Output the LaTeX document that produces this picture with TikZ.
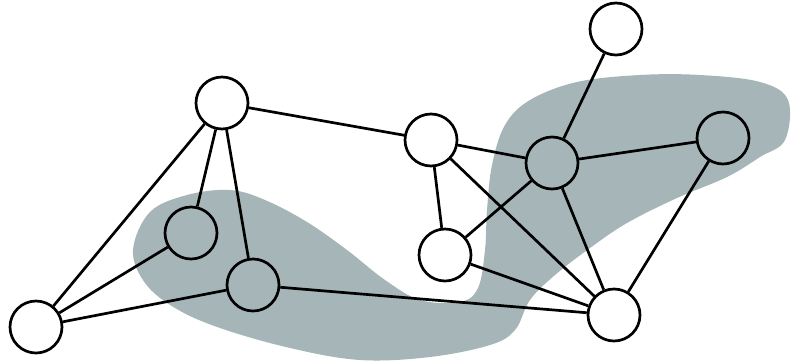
\documentclass[tikz,border=0pt]{standalone}
\definecolor{blobgray}{RGB}{166,181,184}

\begin{document}
\begin{tikzpicture}[x=0.03cm, y=-0.03cm, line width=2.3pt,
    vertex/.style={shape=circle, draw, fill=white, minimum size=1.56cm, inner sep=0pt},
    marked/.style={vertex, fill=none}]
        \useasboundingbox (0, 0) rectangle (791, 363);
        % Shaded region:
        \fill[blobgray] plot[smooth cycle, tension=0.6] coordinates {
            (133, 250) (150, 212) (187, 195) (230, 190) (265, 200) (307, 222)
            (347, 250) (385, 280) (420, 300) (460, 302) (478, 288) (485, 250)
            (487, 210) (492, 165) (505, 125) (530, 100) (577, 82) (640, 75)
            (700, 75) (760, 82) (788, 100) (785, 140) (760, 157) (727, 177)
            (677, 198) (627, 223) (590, 248) (555, 275) (530, 300) (515, 330)
            (490, 345) (430, 357) (360, 360) (290, 348) (220, 328) (175, 308)
            (145, 283)};
        % Nodes:
        \node[vertex] (a) at (36, 327){};
        \node[vertex] (b) at (222, 103){};
        \node[marked] (c) at (191, 233){};
        \node[marked] (d) at (253, 285){};
        \node[vertex] (e) at (431, 140){};
        \node[vertex] (f) at (445, 255){};
        \node[marked] (g) at (552, 163){};
        \node[vertex] (h) at (616, 29){};
        \node[marked] (i) at (723, 138){};
        \node[vertex] (j) at (614, 315){};
        % Edges:
        \draw (a) -- (b);
        \draw (a) -- (c);
        \draw (a) -- (d);
        \draw (b) -- (c);
        \draw (b) -- (d);
        \draw (b) -- (e);
        \draw (d) -- (j);
        \draw (e) -- (f);
        \draw (e) -- (g);
        \draw (e) -- (j);
        \draw (f) -- (g);
        \draw (f) -- (j);
        \draw (g) -- (h);
        \draw (g) -- (i);
        \draw (g) -- (j);
        \draw (i) -- (j);
    \end{tikzpicture}
\end{document}
